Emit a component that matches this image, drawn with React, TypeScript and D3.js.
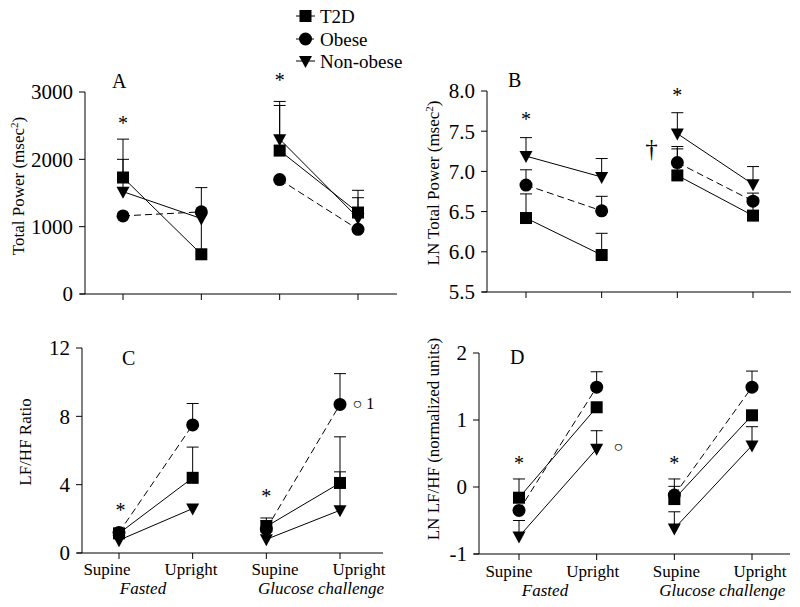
import * as d3 from 'd3';

// categories
const conditions = ['Supine', 'Upright', 'Supine', 'Upright'];
const groups = ['Fasted', 'Glucose challenge'];
const seriesNames = ['T2D', 'Obese', 'Non-obese'];

// Panel A: Total Power (msec^2)
const tpT2D = [1730, 590, 2130, 1210];
const tpT2DErr = [2300, 1580, 2800, 1540];
const tpObese = [1160, 1220, 1700, 960];
const tpObeseErr: (number | null)[] = [null, null, null, null];
const tpNonObese = [1520, 1120, 2300, 1130];
const tpNonObeseErr = [2000, null, 2860, 1430];
const tpTicks = [0, 1000, 2000, 3000];

// Panel B: LN Total Power
const lnT2D = [6.42, 5.96, 6.95, 6.45];
const lnT2DErr = [6.72, 6.23, 7.28, 6.67];
const lnObese = [6.83, 6.51, 7.11, 6.63];
const lnObeseErr = [7.02, 6.69, 7.31, 6.73];
const lnNonObese = [7.19, 6.93, 7.47, 6.84];
const lnNonObeseErr = [7.42, 7.16, 7.73, 7.06];
const lnTicks = [5.5, 6.0, 6.5, 7.0, 7.5, 8.0];

// Panel C: LF/HF ratio
const lfT2D = [1.15, 4.4, 1.55, 4.1];
const lfT2DErr = [null, 6.2, 1.9, 6.8];
const lfObese = [1.2, 7.5, 1.4, 8.7];
const lfObeseErr = [null, 8.75, 2.05, 10.5];
const lfNonObese = [0.75, 2.6, 0.8, 2.5];
const lfNonObeseErr = [null, null, null, 4.75];
const lfTicks = [0, 4, 8, 12];

// Panel D: LN LF/HF
const llT2D = [-0.16, 1.19, -0.18, 1.07];
const llT2DErr = [0.12, null, 0.12, null];
const llObese = [-0.35, 1.49, -0.12, 1.49];
const llObeseErr = [null, 1.72, 0.01, 1.73];
const llNonObese = [-0.74, 0.57, -0.62, 0.62];
const llNonObeseErr = [-0.5, 0.84, -0.37, 0.9];
const llTicks = [-1, 0, 1, 2];

// annotations: [category index, value, text]
const tpNotes: [number, number, string][] = [[0, 2440, '*'], [2, 3070, '*']];
const lnNotes: [number, number, string][] = [[0, 7.57, '*'], [2, 7.86, '*'], [1.66, 7.18, '†']];
const lfNotes: [number, number, string][] = [[0.02, 2.1, '*'], [2, 2.9, '*'], [3.17, 8.45, '○ 1']];
const llNotes: [number, number, string][] = [[0, 0.25, '*'], [2, 0.25, '*'], [1.28, 0.52, '○']];

type Shape = 'square' | 'circle' | 'triangle';
const shapes: Shape[] = ['square', 'circle', 'triangle'];
const dashes = [null, '7,4', null];

const FONT = '"Liberation Serif", "Times New Roman", serif';

function Marker({ shape, x, y }: { shape: Shape; x: number; y: number }) {
  if (shape === 'square') return <rect x={x - 6} y={y - 6} width={12} height={12} fill="#000" />;
  if (shape === 'circle') return <circle cx={x} cy={y} r={6.5} fill="#000" />;
  return <path d={`M${x - 6.5},${y - 5}L${x + 6.5},${y - 5}L${x},${y + 7}Z`} fill="#000" />;
}

interface PanelProps {
  letter: string;
  letterPos: [number, number];
  domain: [number, number];
  ticks: number[];
  fmt: (v: number) => string;
  yLabel: React.ReactNode;
  yLabelPos: [number, number];
  axisX: number;
  axisRight: number;
  top: number;
  bottom: number;
  catRange: [number, number];
  values: number[][];
  errs: (number | null)[][];
  notes: [number, number, string][];
  xLabels?: { range: [number, number]; base: number };
}

function Panel(p: PanelProps) {
  const y = d3.scaleLinear().domain(p.domain).range([p.bottom, p.top]);
  const x = d3.scaleLinear().domain([0, 3]).range(p.catRange);
  const line = d3.line<[number, number]>().x((d) => x(d[0])).y((d) => y(d[1]));
  const pairs = [[0, 1], [2, 3]];
  return (
    <g>
      {/* axes */}
      <line x1={p.axisX} x2={p.axisX} y1={p.top} y2={p.bottom} stroke="#000" strokeWidth={1} />
      <line x1={p.axisX - 5} x2={p.axisRight} y1={p.bottom} y2={p.bottom} stroke="#000" strokeWidth={1} />
      {p.ticks.map((t) => (
        <g key={t}>
          <line x1={p.axisX - 6} x2={p.axisX} y1={y(t)} y2={y(t)} stroke="#000" />
          <text x={p.axisX - 12} y={y(t)} dy="0.35em" textAnchor="end" fontSize={21}>
            {p.fmt(t)}
          </text>
        </g>
      ))}
      {conditions.map((c, i) => (
        <line key={i} x1={x(i)} x2={x(i)} y1={p.bottom} y2={p.bottom + 6} stroke="#000" />
      ))}
      <text
        transform={`translate(${p.yLabelPos[0]},${p.yLabelPos[1]}) rotate(-90)`}
        textAnchor="middle"
        dy="0.35em"
        fontSize={17}
      >
        {p.yLabel}
      </text>
      <text x={p.letterPos[0]} y={p.letterPos[1]} fontSize={20}>
        {p.letter}
      </text>
      {/* lines */}
      {p.values.map((vals, s) =>
        pairs.map(([a, b]) => (
          <path
            key={`${s}-${a}`}
            d={line([[a, vals[a]], [b, vals[b]]]) ?? ''}
            fill="none"
            stroke="#000"
            strokeWidth={1}
            strokeDasharray={dashes[s] ?? undefined}
          />
        ))
      )}
      {/* error bars */}
      {p.errs.map((errs, s) =>
        errs.map((e, i) =>
          e == null ? null : (
            <g key={`e${s}-${i}`} stroke="#000" strokeWidth={1}>
              <line x1={x(i)} x2={x(i)} y1={y(p.values[s][i])} y2={y(e)} />
              <line x1={x(i) - 6} x2={x(i) + 6} y1={y(e)} y2={y(e)} />
            </g>
          )
        )
      )}
      {/* markers */}
      {p.values.map((vals, s) =>
        vals.map((v, i) => <Marker key={`m${s}-${i}`} shape={shapes[s]} x={x(i)} y={y(v)} />)
      )}
      {p.notes.map(([i, v, t], k) => (
        <text
          key={`n${k}`}
          x={x(i)}
          y={y(v)}
          textAnchor={t.length > 1 ? 'start' : 'middle'}
          fontSize={t === '*' ? 20 : t === '†' ? 25 : 16}
        >
          {t}
        </text>
      ))}
      {p.xLabels && (
        <g fontSize={17}>
          {conditions.map((c, i) => {
            const lx = d3.scaleLinear().domain([0, 3]).range(p.xLabels!.range);
            return (
              <text key={`xl${i}`} x={lx(i)} y={p.xLabels!.base} textAnchor="middle">
                {c}
              </text>
            );
          })}
          <text x={p.xLabels.range[0] + 36} y={p.xLabels.base + 19} textAnchor="middle" fontStyle="italic">
            {groups[0]}
          </text>
          <text
            x={(p.xLabels.range[0] * 1 + p.xLabels.range[1] * 2) / 3 + 46}
            y={p.xLabels.base + 19}
            textAnchor="middle"
            fontStyle="italic"
          >
            {groups[1]}
          </text>
        </g>
      )}
    </g>
  );
}

function Legend() {
  const rows = [16, 39, 61];
  return (
    <g>
      {seriesNames.map((n, i) => (
        <g key={n}>
          <line
            x1={296}
            x2={315}
            y1={rows[i]}
            y2={rows[i]}
            stroke="#000"
            strokeDasharray={dashes[i] ? '4,3' : undefined}
          />
          <Marker shape={shapes[i]} x={305.5} y={rows[i]} />
          <text x={320} y={rows[i]} dy="0.35em" fontSize={19}>
            {n}
          </text>
        </g>
      ))}
    </g>
  );
}

export default function App() {
  const sq = (
    <>
      (msec<tspan dy={-6} fontSize={11}>2</tspan>
      <tspan dy={6}>)</tspan>
    </>
  );
  return (
    <svg
      width={800}
      height={607}
      style={{ position: 'absolute', left: 0, top: 0, background: '#fff' }}
      fontFamily={FONT}
    >
      <rect width={800} height={607} fill="#fff" />
      <Panel
        letter="A"
        letterPos={[112, 88]}
        domain={[0, 3000]}
        ticks={tpTicks}
        fmt={(v) => String(v)}
        yLabel={<>Total Power {sq}</>}
        yLabelPos={[18, 186]}
        axisX={85}
        axisRight={397}
        top={92}
        bottom={294}
        catRange={[123, 358]}
        values={[tpT2D, tpObese, tpNonObese]}
        errs={[tpT2DErr, tpObeseErr, tpNonObeseErr]}
        notes={tpNotes}
      />
      <Panel
        letter="B"
        letterPos={[508, 87]}
        domain={[5.5, 8.0]}
        ticks={lnTicks}
        fmt={d3.format('.1f')}
        yLabel={<>LN Total Power {sq}</>}
        yLabelPos={[433, 183]}
        axisX={487}
        axisRight={791}
        top={91}
        bottom={292}
        catRange={[526, 753]}
        values={[lnT2D, lnObese, lnNonObese]}
        errs={[lnT2DErr, lnObeseErr, lnNonObeseErr]}
        notes={lnNotes}
      />
      <Panel
        letter="C"
        letterPos={[122, 365]}
        domain={[0, 12]}
        ticks={lfTicks}
        fmt={(v) => String(v)}
        yLabel="LF/HF Ratio"
        yLabelPos={[25, 442]}
        axisX={82}
        axisRight={383}
        top={348}
        bottom={553}
        catRange={[119, 340]}
        values={[lfT2D, lfObese, lfNonObese]}
        errs={[lfT2DErr, lfObeseErr, lfNonObeseErr]}
        notes={lfNotes}
        xLabels={{ range: [107, 359], base: 575 }}
      />
      <Panel
        letter="D"
        letterPos={[510, 364]}
        domain={[-1, 2]}
        ticks={llTicks}
        fmt={(v) => String(v)}
        yLabel="LN LF/HF (normalized units)"
        yLabelPos={[433, 439]}
        axisX={479}
        axisRight={790}
        top={353}
        bottom={554}
        catRange={[519, 752]}
        values={[llT2D, llObese, llNonObese]}
        errs={[llT2DErr, llObeseErr, llNonObeseErr]}
        notes={llNotes}
        xLabels={{ range: [509, 760], base: 577 }}
      />
      <Legend />
    </svg>
  );
}
